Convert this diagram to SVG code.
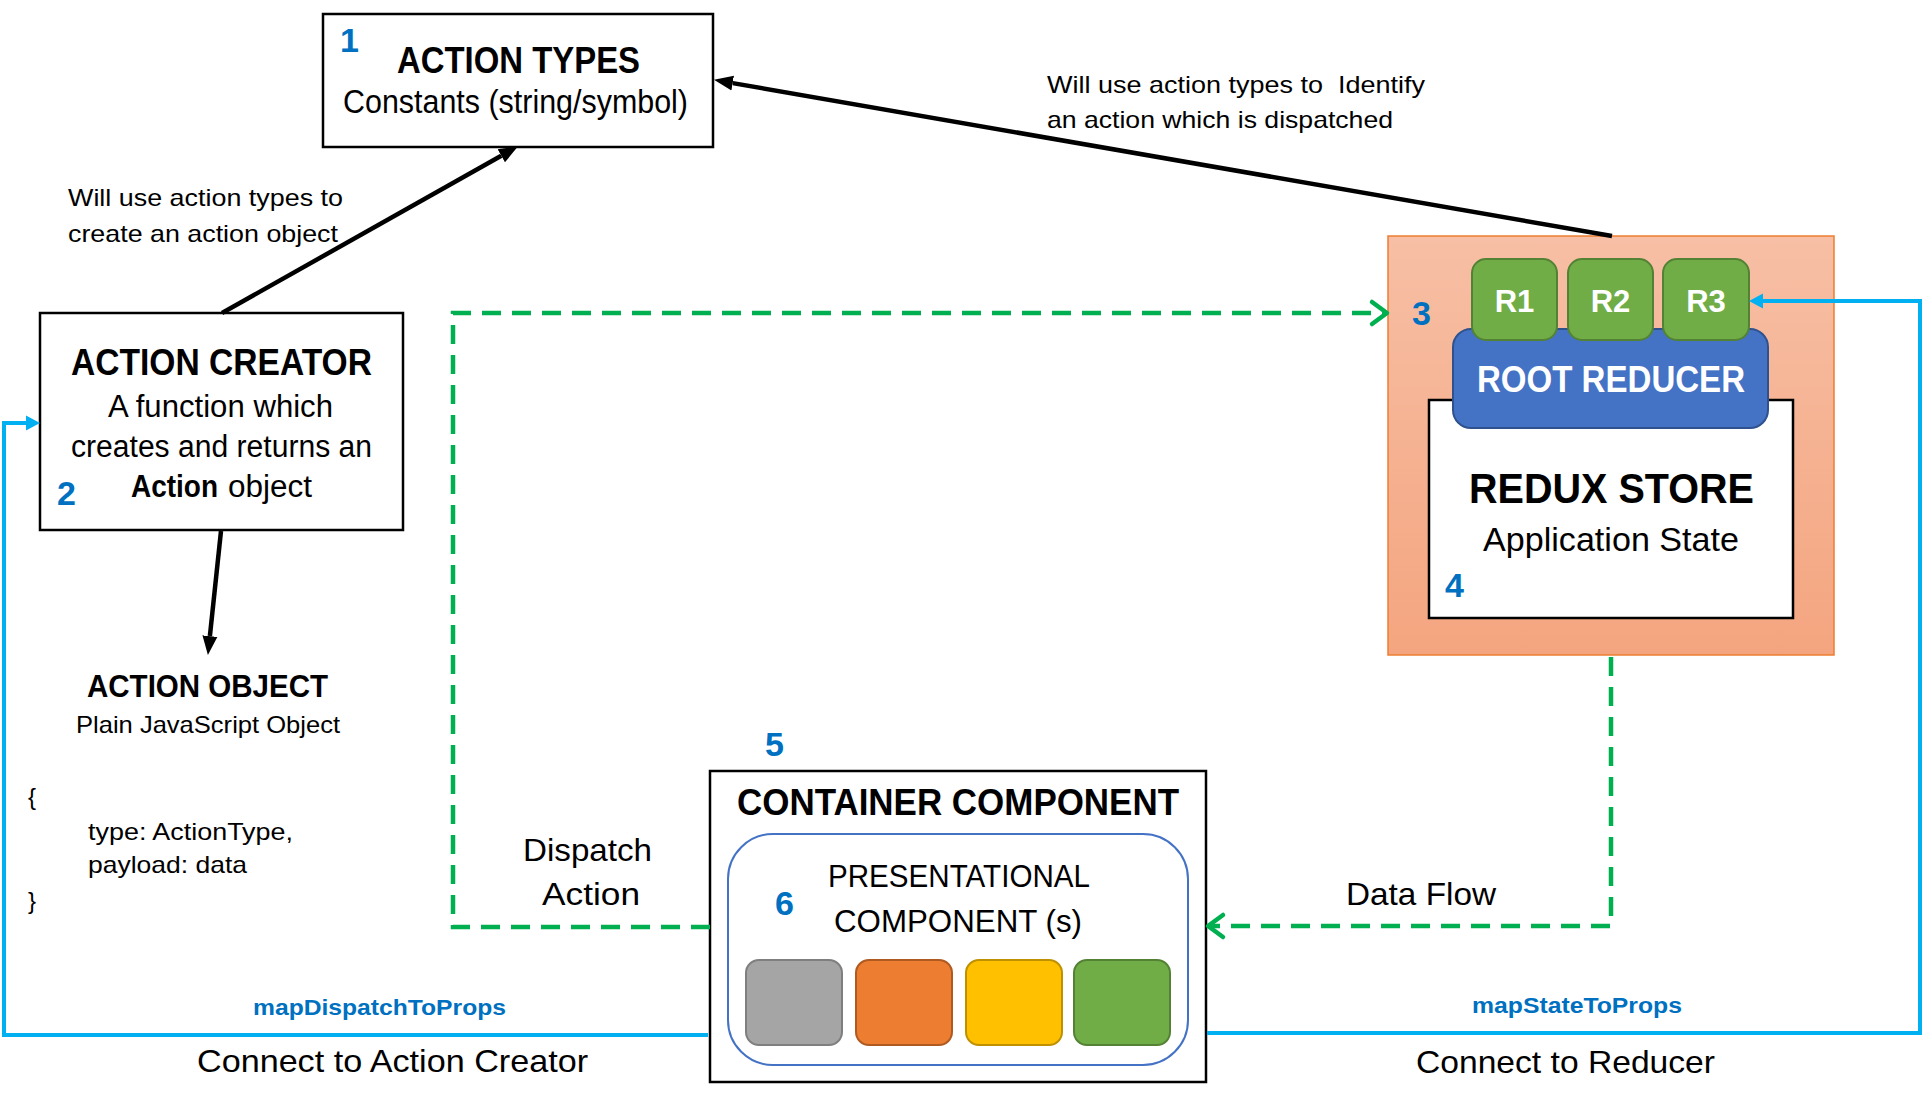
<svg xmlns="http://www.w3.org/2000/svg" width="1924" height="1109" viewBox="0 0 1924 1109">
<style>
text{font-family:'Liberation Sans',Arial,sans-serif;fill:#000}
.b{font-weight:bold}
.num{font-weight:bold;fill:#0070C0;font-size:34px}
.wt{fill:#fff;font-weight:bold}
.map{font-weight:bold;fill:#0070C0;font-size:22px}
.box{fill:#fff;stroke:#000;stroke-width:2.5}
.blk{fill:none;stroke:#000;stroke-width:4.5}
.grn{fill:none;stroke:#00B050;stroke-width:4.5;stroke-dasharray:19 11}
.blu{fill:none;stroke:#00B0F0;stroke-width:4}
.rr{fill:#70AD47;stroke:#548235;stroke-width:2}
</style>
<defs>
<linearGradient id="og" x1="0" y1="0" x2="0" y2="1">
<stop offset="0" stop-color="#F7BFA5"/>
<stop offset="1" stop-color="#F4A57F"/>
</linearGradient>
<marker id="ab" markerUnits="userSpaceOnUse" viewBox="0 -9 20 18" refX="0" refY="0" markerWidth="20" markerHeight="18" orient="auto">
<path d="M0,-7.5 L19,0 L0,7.5 z" fill="#000"/>
</marker>
<marker id="au" markerUnits="userSpaceOnUse" viewBox="0 -9 16 18" refX="0" refY="0" markerWidth="16" markerHeight="18" orient="auto">
<path d="M0,-7.5 L14,0 L0,7.5 z" fill="#00B0F0"/>
</marker>
<marker id="ag" markerUnits="userSpaceOnUse" viewBox="-20 -15 24 30" refX="0" refY="0" markerWidth="24" markerHeight="30" orient="auto">
<path d="M-15,-11 L0,0 L-15,11" fill="none" stroke="#00B050" stroke-width="4.5" stroke-linecap="round" stroke-linejoin="round"/>
</marker>
</defs>
<rect width="1924" height="1109" fill="#fff"/>

<g id="action-types">
<rect class="box" x="323" y="14" width="390" height="133"/>
<text class="num" x="340" y="52">1</text>
<text class="b" x="397" y="73" font-size="37" textLength="243" lengthAdjust="spacingAndGlyphs">ACTION TYPES</text>
<text x="343" y="113" font-size="34" textLength="345" lengthAdjust="spacingAndGlyphs">Constants (string/symbol)</text>
</g>

<g id="action-creator">
<rect class="box" x="40" y="313" width="363" height="217"/>
<text class="b" x="71" y="375" font-size="36" textLength="301" lengthAdjust="spacingAndGlyphs">ACTION CREATOR</text>
<text x="108" y="417" font-size="31" textLength="225" lengthAdjust="spacingAndGlyphs">A function which</text>
<text x="71" y="457" font-size="31" textLength="301" lengthAdjust="spacingAndGlyphs">creates and returns an</text>
<text class="b" x="131" y="497" font-size="31" textLength="87" lengthAdjust="spacingAndGlyphs">Action</text>
<text x="228" y="497" font-size="31" textLength="84" lengthAdjust="spacingAndGlyphs">object</text>
<text class="num" x="57" y="505">2</text>
</g>

<g id="action-object">
<text class="b" x="87" y="697" font-size="31" textLength="241" lengthAdjust="spacingAndGlyphs">ACTION OBJECT</text>
<text x="76" y="733" font-size="24" textLength="264" lengthAdjust="spacingAndGlyphs">Plain JavaScript Object</text>
<text x="28" y="805" font-size="24">{</text>
<text x="88" y="840" font-size="24" textLength="205" lengthAdjust="spacingAndGlyphs">type: ActionType,</text>
<text x="88" y="873" font-size="24" textLength="159" lengthAdjust="spacingAndGlyphs">payload: data</text>
<text x="28" y="909" font-size="24">}</text>
</g>

<g id="redux-store">
<rect x="1388" y="236" width="446" height="419" fill="url(#og)" stroke="#ED7D31" stroke-width="1.5"/>
<text class="num" x="1412" y="325">3</text>
<rect class="box" x="1429" y="400" width="364" height="218"/>
<text class="b" x="1469" y="503" font-size="42" textLength="285" lengthAdjust="spacingAndGlyphs">REDUX STORE</text>
<text x="1483" y="551" font-size="33" textLength="256" lengthAdjust="spacingAndGlyphs">Application State</text>
<text class="num" x="1445" y="597">4</text>
</g>

<g id="root-reducer">
<rect x="1453" y="329" width="315" height="99" rx="18" fill="#4472C4" stroke="#2F528F" stroke-width="2"/>
<text class="wt" x="1477" y="392" font-size="36" textLength="268" lengthAdjust="spacingAndGlyphs">ROOT REDUCER</text>
</g>

<g id="r1">
<rect class="rr" x="1472" y="259" width="85" height="81" rx="14"/>
<text class="wt" x="1514.5" y="312" font-size="31" text-anchor="middle">R1</text>
</g>
<g id="r2">
<rect class="rr" x="1568" y="259" width="85" height="81" rx="14"/>
<text class="wt" x="1610.5" y="312" font-size="31" text-anchor="middle">R2</text>
</g>
<g id="r3">
<rect class="rr" x="1663" y="259" width="86" height="81" rx="14"/>
<text class="wt" x="1706" y="312" font-size="31" text-anchor="middle">R3</text>
</g>

<g id="container-component">
<text class="num" x="765" y="756">5</text>
<rect class="box" x="710" y="771" width="496" height="311"/>
<text class="b" x="737" y="815" font-size="36" textLength="442" lengthAdjust="spacingAndGlyphs">CONTAINER COMPONENT</text>
</g>

<g id="presentational-component">
<rect x="728" y="834" width="460" height="231" rx="45" fill="#fff" stroke="#4472C4" stroke-width="2"/>
<text x="828" y="887" font-size="32" textLength="262" lengthAdjust="spacingAndGlyphs">PRESENTATIONAL</text>
<text x="834" y="932" font-size="32" textLength="248" lengthAdjust="spacingAndGlyphs">COMPONENT (s)</text>
<text class="num" x="775" y="915">6</text>
<rect x="746" y="960" width="96" height="85" rx="13" fill="#A5A5A5" stroke="#7F7F7F" stroke-width="2"/>
<rect x="856" y="960" width="96" height="85" rx="13" fill="#ED7D31" stroke="#AE5A21" stroke-width="2"/>
<rect x="966" y="960" width="96" height="85" rx="13" fill="#FFC000" stroke="#BF9000" stroke-width="2"/>
<rect x="1074" y="960" width="96" height="85" rx="13" fill="#70AD47" stroke="#548235" stroke-width="2"/>
</g>

<g id="connectors">
<path class="blk" d="M222,313 L501.3,155.8" marker-end="url(#ab)"/>
<path class="blk" d="M1612,236 L732.7,83.1" marker-end="url(#ab)"/>
<path class="blk" d="M221,531 L209.9,636.1" marker-end="url(#ab)"/>
<path class="grn" d="M710,927 H453 V313 H1387" marker-end="url(#ag)"/>
<path class="grn" d="M1611,657 V926 H1208" marker-end="url(#ag)"/>
<path class="blu" d="M708,1035 H4 V423 H26" marker-end="url(#au)"/>
<path class="blu" d="M1207,1033 H1920 V301 H1763" marker-end="url(#au)"/>
<text x="1047" y="93" font-size="24" textLength="378" lengthAdjust="spacingAndGlyphs">Will use action types to&#160; Identify</text>
<text x="1047" y="128" font-size="24" textLength="346" lengthAdjust="spacingAndGlyphs">an action which is dispatched</text>
<text x="68" y="206" font-size="24" textLength="275" lengthAdjust="spacingAndGlyphs">Will use action types to</text>
<text x="68" y="242" font-size="24" textLength="270" lengthAdjust="spacingAndGlyphs">create an action object</text>
<text x="523" y="861" font-size="32" textLength="129" lengthAdjust="spacingAndGlyphs">Dispatch</text>
<text x="542" y="905" font-size="32" textLength="98" lengthAdjust="spacingAndGlyphs">Action</text>
<text x="1346" y="905" font-size="32" textLength="150" lengthAdjust="spacingAndGlyphs">Data Flow</text>
<text class="map" x="253" y="1015" textLength="253" lengthAdjust="spacingAndGlyphs">mapDispatchToProps</text>
<text class="map" x="1472" y="1013" textLength="210" lengthAdjust="spacingAndGlyphs">mapStateToProps</text>
<text x="197" y="1072" font-size="32" textLength="391" lengthAdjust="spacingAndGlyphs">Connect to Action Creator</text>
<text x="1416" y="1073" font-size="32" textLength="299" lengthAdjust="spacingAndGlyphs">Connect to Reducer</text>
</g>
</svg>
